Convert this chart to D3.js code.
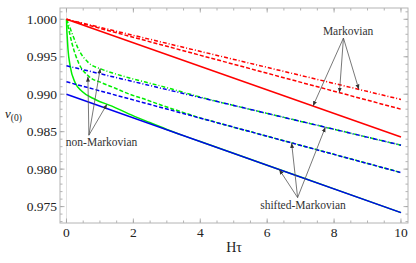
<!DOCTYPE html>
<html>
<head>
<meta charset="utf-8">
<script src="https://cdn.jsdelivr.net/npm/d3@7"></script>
<style>
  body { margin: 0; background: #fff; }
</style>
</head>
<body>
<svg id="chart"></svg>
<script>
// chart size
const width = 416;
const height = 263;
const marginTop = 8;
const marginRight = 8;
const marginBottom = 40;
const marginLeft = 60;

// data: [Htau, v(0)]
const markovSolid   = [[0, 1.0], [10, 0.9843]];
const markovDashed  = [[0, 1.0], [10, 0.9880]];
const markovDashDot = [[0, 1.0], [10, 0.9893]];

const shiftSolid   = [[0, 0.9900], [10, 0.9742]];
const shiftDashed  = [[0, 0.99166], [10, 0.97954]];
const shiftDashDot = [[0, 0.9938], [10, 0.9832]];

const nonMarkSolid = [[0, 1.0], [0.01, 0.9985], [0.02, 0.9978], [0.045, 0.9960], [0.11, 0.99376],
  [0.26, 0.99152], [0.46, 0.99041], [0.86, 0.9893], [1.36, 0.98841], [1.86, 0.98738],
  [2.4, 0.98638], [3.0, 0.98530], [3.5, 0.98447], [4, 0.98368], [6, 0.98052],
  [8, 0.97736], [10, 0.9742]];
const nonMarkDashed = [[0, 1.0], [0.05, 0.9990], [0.16, 0.99687], [0.36, 0.9942], [0.66, 0.99242],
  [1.06, 0.99152], [1.46, 0.99080], [1.86, 0.99005], [2.36, 0.98930], [2.86, 0.98850],
  [3.4, 0.98770], [3.9, 0.98697], [4.5, 0.98621], [6, 0.98439], [8, 0.98197], [10, 0.97954]];
const nonMarkDashDot = [[0, 1.0], [0.05, 0.9995], [0.16, 0.9982], [0.36, 0.9960], [0.66, 0.9942],
  [1.06, 0.99332], [1.46, 0.99272], [1.86, 0.9922], [2.36, 0.99162], [2.86, 0.99105],
  [3.3, 0.99050], [3.75, 0.98993], [4.3, 0.98926], [5, 0.98850], [6.5, 0.98691],
  [8, 0.98532], [10, 0.9832]];

const xTicks = [0, 2, 4, 6, 8, 10];
const yTicks = [0.975, 0.980, 0.985, 0.990, 0.995, 1.000];

// annotations: label, label anchor, arrow origin, arrow tips (data units)
const notes = [
  { label: "Markovian", at: [8.42, 0.99790], from: [8.28, 0.9975],
    to: [[7.37, 0.98843], [8.16, 0.99021], [8.74, 0.99065]] },
  { label: "non-Markovian", at: [1.05, 0.98306], from: [0.67, 0.98453],
    to: [[0.64, 0.99235], [1.01, 0.99345], [1.21, 0.98866]] },
  { label: "shifted-Markovian", at: [7.07, 0.97464], from: [6.91, 0.97620],
    to: [[6.36, 0.97995], [6.73, 0.98350], [7.74, 0.98560]] }
];

const x = d3.scaleLinear()
  .domain([-0.194, 10.21])
  .range([marginLeft, width - marginRight]);

const y = d3.scaleLinear()
  .domain([0.97281, 1.00151])
  .range([height - marginBottom, marginTop]);

const svg = d3.select("#chart")
  .attr("width", width)
  .attr("height", height)
  .attr("viewBox", [0, 0, width, height])
  .attr("font-family", "'Liberation Serif', 'Times New Roman', serif");

const frameColor = "#b4b4b4";
const tickColor = "#a0a0a0";

// faint x = 0 axis
svg.append("line")
  .attr("x1", x(0)).attr("x2", x(0))
  .attr("y1", marginTop).attr("y2", height - marginBottom)
  .attr("stroke", "#e2e2e2")
  .attr("stroke-width", 1);

// frame ticks, pointing inward on all four sides
const xMinor = d3.range(0, 10.01, 0.5);
const yMinor = d3.range(0.973, 1.0011, 0.001);

function tickGroup(scale, values, horizontal, pos, dir, len) {
  svg.append("g")
    .selectAll("line")
    .data(values)
    .join("line")
      .attr("x1", d => horizontal ? scale(d) : pos)
      .attr("x2", d => horizontal ? scale(d) : pos + dir * len)
      .attr("y1", d => horizontal ? pos : scale(d))
      .attr("y2", d => horizontal ? pos + dir * len : scale(d))
      .attr("stroke", tickColor)
      .attr("stroke-width", 0.8);
}
const frameBottom = height - marginBottom, frameTop = marginTop;
const frameLeft = marginLeft, frameRight = width - marginRight;
tickGroup(x, xMinor, true, frameBottom, -1, 2.5);
tickGroup(x, xTicks, true, frameBottom, -1, 4.5);
tickGroup(x, xMinor, true, frameTop, 1, 2.5);
tickGroup(x, xTicks, true, frameTop, 1, 4.5);
tickGroup(y, yMinor, false, frameLeft, 1, 2.5);
tickGroup(y, yTicks, false, frameLeft, 1, 4.5);
tickGroup(y, yMinor, false, frameRight, -1, 2.5);
tickGroup(y, yTicks, false, frameRight, -1, 4.5);

svg.append("rect")
  .attr("x", frameLeft).attr("y", frameTop)
  .attr("width", frameRight - frameLeft).attr("height", frameBottom - frameTop)
  .attr("fill", "none")
  .attr("stroke", frameColor)
  .attr("stroke-width", 1);

// tick labels
svg.append("g")
  .selectAll("text")
  .data(xTicks)
  .join("text")
    .attr("x", d => x(d))
    .attr("y", frameBottom + 14)
    .attr("text-anchor", "middle")
    .attr("font-size", 13.5)
    .attr("fill", "#222")
    .text(d => d);

svg.append("g")
  .selectAll("text")
  .data(yTicks)
  .join("text")
    .attr("x", frameLeft - 3)
    .attr("y", d => y(d) + 4.5)
    .attr("text-anchor", "end")
    .attr("font-size", 13.5)
    .attr("fill", "#222")
    .text(d => d3.format(".3f")(d));

// axis labels
svg.append("text")
  .attr("x", (frameLeft + frameRight) / 2)
  .attr("y", 252)
  .attr("text-anchor", "middle")
  .attr("font-size", 14)
  .attr("fill", "#222")
  .text("H\u03C4");

const yl = svg.append("text")
  .attr("x", 5)
  .attr("y", 118)
  .attr("font-size", 13)
  .attr("fill", "#222");
yl.append("tspan").attr("font-style", "italic").text("v");
yl.append("tspan").attr("font-size", 9.5).attr("dy", 3).text("(0)");

// curves
const line = d3.line().x(d => x(d[0])).y(d => y(d[1])).curve(d3.curveMonotoneX);

const dashed = "4,2";
const dashDot = "4,2,1,2";
const series = [
  { data: nonMarkSolid,   color: "#00ee00", dash: null },
  { data: nonMarkDashed,  color: "#00ee00", dash: dashed },
  { data: nonMarkDashDot, color: "#00ee00", dash: dashDot },
  { data: shiftSolid,     color: "#0000ee", dash: null },
  { data: shiftDashed,    color: "#0000ee", dash: dashed },
  { data: shiftDashDot,   color: "#0000ee", dash: dashDot },
  { data: markovSolid,    color: "#ff0000", dash: null },
  { data: markovDashed,   color: "#ff0000", dash: dashed },
  { data: markovDashDot,  color: "#ff0000", dash: dashDot }
];

const plot = svg.append("g");
plot.selectAll("path")
  .data(series)
  .join("path")
    .attr("d", d => line(d.data))
    .attr("fill", "none")
    .attr("stroke", d => d.color)
    .attr("stroke-width", 1.5)
    .attr("stroke-dasharray", d => d.dash);

// annotations with arrows
svg.append("defs").append("marker")
  .attr("id", "head")
  .attr("viewBox", "0 0 10 10")
  .attr("refX", 10).attr("refY", 5)
  .attr("markerWidth", 5).attr("markerHeight", 5)
  .attr("markerUnits", "userSpaceOnUse")
  .attr("orient", "auto")
  .append("path")
    .attr("d", "M0,1 L10,5 L0,9 Z")
    .attr("fill", "#333");

notes.forEach(n => {
  svg.append("g")
    .selectAll("line")
    .data(n.to)
    .join("line")
      .attr("x1", x(n.from[0])).attr("y1", y(n.from[1]))
      .attr("x2", d => x(d[0])).attr("y2", d => y(d[1]))
      .attr("stroke", "#555")
      .attr("stroke-width", 0.8)
      .attr("marker-end", "url(#head)");

  svg.append("text")
    .attr("x", x(n.at[0]))
    .attr("y", y(n.at[1]))
    .attr("text-anchor", "middle")
    .attr("font-size", 11.5)
    .attr("fill", "#333")
    .text(n.label);
});
</script>
</body>
</html>
